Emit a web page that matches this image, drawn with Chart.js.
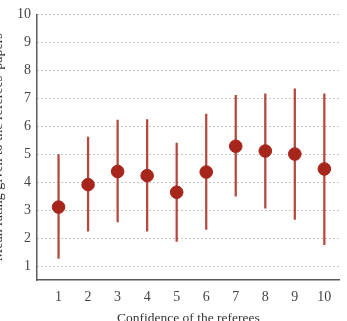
<!DOCTYPE html>
<html>
<head>
<meta charset="utf-8">
<script src="https://cdn.jsdelivr.net/npm/chart.js@4"></script>
<style>
  html, body { margin: 0; padding: 0; background: #fff; overflow: hidden; }
  #wrap { position: absolute; left: 0; top: 0; width: 347px; height: 321px; overflow: hidden; }
  #box { position: absolute; left: -10px; top: 0; width: 357px; height: 327px; }
</style>
</head>
<body>
<div id="wrap"><div id="box"><canvas id="chartRatings"></canvas></div></div>
<script>
// 数据
var confidence = [1, 2, 3, 4, 5, 6, 7, 8, 9, 10];
var meanRating = [3.13, 3.93, 4.40, 4.25, 3.66, 4.38, 5.30, 5.13, 5.02, 4.49];
var lowRating  = [1.30, 2.27, 2.60, 2.27, 1.91, 2.33, 3.52, 3.09, 2.69, 1.79];
var highRating = [5.00, 5.63, 6.23, 6.25, 5.41, 6.45, 7.11, 7.17, 7.35, 7.17];
var yTicks = [1, 2, 3, 4, 5, 6, 7, 8, 9, 10];

var dotColor = '#a6261b';
var barColor = '#b5483e';
var serif = '"Liberation Serif", "DejaVu Serif", serif';

var points = [];
var ranges = [];
for (var i = 0; i < confidence.length; i++) {
    points.push({ x: confidence[i], y: meanRating[i] });
    ranges.push({ x: confidence[i], y: [lowRating[i], highRating[i]] });
}

new Chart(document.getElementById('chartRatings').getContext('2d'), {
    type: 'bar',
    data: {
        datasets: [
            {
                type: 'scatter',
                data: points,
                backgroundColor: dotColor,
                borderColor: dotColor,
                pointRadius: 6.3,
                pointHoverRadius: 6.3,
                order: 1
            },
            {
                type: 'bar',
                data: ranges,
                backgroundColor: barColor,
                borderWidth: 0,
                barThickness: 1.6,
                order: 2
            }
        ]
    },
    options: {
        responsive: true,
        maintainAspectRatio: false,
        animation: false,
        layout: { padding: { top: 13, right: 7, left: 0, bottom: 0 } },
        plugins: {
            legend: { display: false },
            tooltip: { enabled: false }
        },
        scales: {
            x: {
                type: 'linear',
                offset: false,
                min: 0.27,
                max: 10.52,
                afterBuildTicks: function (scale) {
                    scale.ticks = confidence.map(function (v) { return { value: v }; });
                },
                afterFit: function (scale) { scale.height = 47; },
                grid: { display: false, drawTicks: false },
                border: { display: true, color: '#5a5a5a', width: 1.5 },
                ticks: {
                    padding: 9,
                    color: '#444',
                    font: { family: serif, size: 14 },
                    maxRotation: 0
                },
                title: {
                    display: true,
                    text: 'Confidence of the referees',
                    color: '#333',
                    padding: 0,
                    font: { family: serif, size: 13.5 }
                }
            },
            y: {
                min: 0.53,
                max: 10,
                afterBuildTicks: function (scale) {
                    scale.ticks = yTicks.map(function (v) { return { value: v }; });
                },
                afterFit: function (scale) { scale.width = 47; },
                grid: {
                    color: '#8a8a8a',
                    lineWidth: 1,
                    drawTicks: false
                },
                border: { display: true, color: '#5a5a5a', width: 1.5, dash: [1, 3] },
                ticks: {
                    padding: 6,
                    color: '#444',
                    font: { family: serif, size: 14 }
                },
                title: {
                    display: true,
                    text: "Mean rating given to the referees' papers",
                    color: '#333',
                    padding: { top: 0, bottom: 0 },
                    font: { family: serif, size: 14 }
                }
            }
        }
    }
});
</script>
</body>
</html>
